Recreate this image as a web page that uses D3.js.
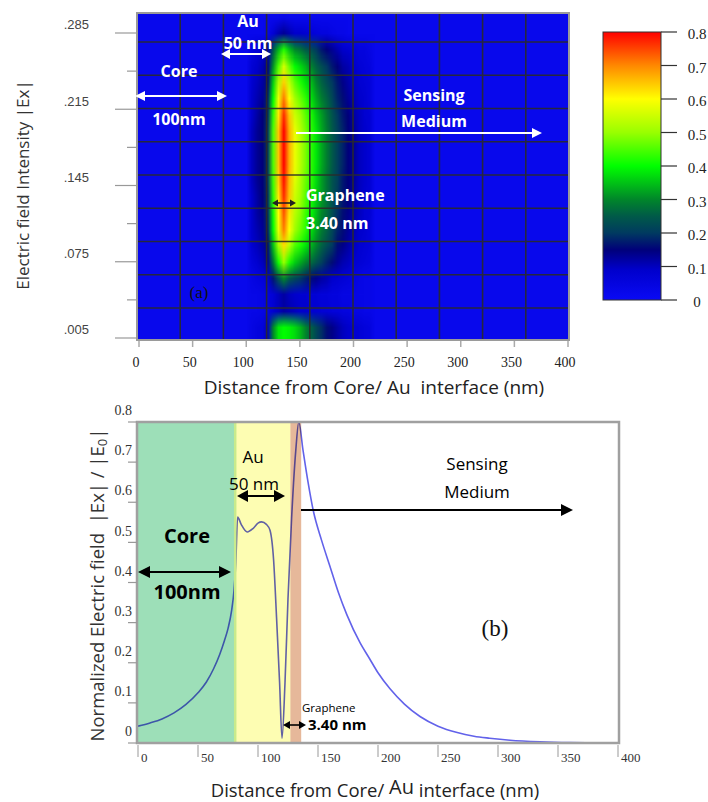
<!DOCTYPE html>
<html><head><meta charset="utf-8">
<script src="https://cdn.jsdelivr.net/npm/d3@7"></script>
<style>
body{margin:0;background:#fff;}
svg{display:block;}
</style></head><body>
<svg id="chart" width="708" height="802"></svg>
<script>
// ---------------- DATA ----------------
// Panel (a): field map |Ex| (colour value) on a grid of distance (nm) x intensity axis
const heatX = [105,110,115,120,125,130,135,140,145,150,155,160,165,170,175,180,185,190,195,200,205,210,215];
const heatY = [0.300,0.285,0.270,0.255,0.240,0.225,0.210,0.195,0.180,0.165,0.150,0.135,0.120,0.105,0.090,0.075,0.060,0.045,0.030,0.015,0.000];
const heatValues = [
  [.02,.02,.02,.02,.02,.02,.03,.02,.02,.02,.02,.02,.02,.02,.02,.02,.02,.02,.02,.02,.02,.02,.02],
  [.02,.02,.02,.03,.07,.11,.13,.11,.09,.09,.08,.07,.06,.05,.05,.04,.03,.03,.02,.02,.02,.02,.02],
  [.05,.07,.08,.11,.24,.34,.42,.35,.30,.28,.25,.23,.20,.17,.15,.13,.11,.09,.08,.07,.05,.05,.04],
  [.07,.09,.11,.14,.31,.45,.56,.47,.40,.37,.34,.30,.26,.23,.20,.17,.15,.12,.11,.09,.07,.06,.05],
  [.08,.10,.12,.16,.36,.52,.64,.54,.46,.42,.38,.35,.30,.26,.23,.20,.17,.14,.12,.10,.08,.07,.06],
  [.09,.11,.13,.18,.40,.58,.71,.60,.51,.47,.43,.38,.33,.29,.26,.22,.18,.16,.13,.11,.09,.08,.06],
  [.09,.12,.15,.19,.43,.62,.77,.65,.55,.51,.46,.42,.36,.32,.28,.24,.20,.17,.15,.12,.10,.08,.07],
  [.10,.13,.15,.20,.45,.65,.80,.67,.58,.53,.48,.43,.38,.33,.29,.25,.21,.18,.15,.13,.10,.09,.07],
  [.10,.13,.15,.20,.45,.65,.80,.67,.58,.53,.48,.43,.38,.33,.29,.25,.21,.18,.15,.13,.10,.09,.07],
  [.10,.13,.15,.20,.45,.65,.80,.67,.58,.53,.48,.43,.38,.33,.29,.25,.21,.18,.15,.13,.10,.09,.07],
  [.10,.13,.15,.20,.44,.64,.79,.66,.57,.52,.47,.43,.37,.32,.28,.24,.21,.17,.15,.13,.10,.09,.07],
  [.09,.12,.15,.19,.43,.62,.77,.65,.55,.51,.46,.42,.36,.32,.28,.24,.20,.17,.15,.12,.10,.08,.07],
  [.09,.12,.14,.19,.41,.60,.74,.62,.53,.49,.44,.40,.35,.30,.27,.23,.19,.16,.14,.12,.10,.08,.07],
  [.09,.11,.13,.18,.40,.58,.71,.60,.51,.47,.43,.38,.33,.29,.26,.22,.18,.16,.13,.11,.09,.08,.06],
  [.08,.10,.12,.16,.35,.51,.63,.53,.45,.42,.38,.34,.30,.26,.23,.20,.16,.14,.12,.10,.08,.07,.06],
  [.06,.08,.10,.13,.28,.41,.50,.42,.36,.33,.30,.27,.24,.21,.18,.16,.13,.11,.10,.08,.07,.06,.05],
  [.04,.05,.06,.08,.17,.24,.30,.25,.22,.20,.18,.16,.14,.12,.11,.09,.08,.07,.06,.05,.04,.03,.03],
  [.03,.03,.04,.05,.07,.10,.12,.10,.09,.08,.08,.07,.07,.06,.06,.05,.05,.04,.04,.04,.03,.03,.03],
  [.03,.03,.04,.05,.08,.10,.12,.11,.10,.09,.09,.08,.08,.07,.07,.06,.06,.05,.05,.04,.04,.03,.03],
  [.04,.05,.06,.10,.30,.38,.40,.39,.37,.34,.30,.26,.22,.19,.16,.14,.12,.10,.09,.08,.07,.06,.05],
  [.04,.05,.06,.10,.30,.38,.40,.39,.37,.34,.30,.26,.22,.19,.16,.14,.12,.10,.09,.08,.07,.06,.05]
];
const backgroundField = 0.02;
const xTicksA = [0,50,100,150,200,250,300,350,400];
const yTicksA = [0.005,0.075,0.145,0.215,0.285];
const yTickLabelsA = [".005",".075",".145",".215",".285"];
const colorbarTicks = [0,0.1,0.2,0.3,0.4,0.5,0.6,0.7,0.8];
const colorbarLabels = ["0","0.1","0.2","0.3","0.4","0.5","0.6","0.7","0.8"];

// Panel (b): normalized field profile
const distanceNm = [0,10,20,30,40,50,57,63,68,72,75,78,80,81.5,83,86,91,96,100,103,107,110,113,115.5,118,120,122.5,125,128,131.5,134,137.5,141.7,146,153,160,167,174,185,193,200,210,222,235,250,266,280,293,310,335,360,380,400];
const fieldNorm  = [0.042,0.05,0.06,0.075,0.096,0.125,0.152,0.185,0.22,0.255,0.285,0.33,0.38,0.45,0.563,0.545,0.526,0.535,0.548,0.551,0.545,0.53,0.456,0.31,0.15,0.012,0.15,0.36,0.56,0.73,0.80,0.73,0.65,0.58,0.505,0.44,0.375,0.32,0.25,0.21,0.175,0.135,0.097,0.066,0.042,0.026,0.017,0.012,0.007,0.003,0.001,0.0005,0];
const layerNames = ["Core","Au","Graphene"];
const layerBounds = [0,81,127,136];   // nm boundaries of layers
const xTicksB = [0,50,100,150,200,250,300,350,400];
const yTicksB = [0,0.1,0.2,0.3,0.4,0.5,0.6,0.7,0.8];
const yTickLabelsB = ["0","0.1","0.2","0.3","0.4","0.5","0.6","0.7","0.8"];

// colour map
const colorStops = [0,0.09,0.15,0.2,0.25,0.3,0.4,0.5,0.6,0.7,0.8];
const colorHex = ["#0a0af5","#0000cc","#00007a","#003a60","#005a48","#00862a","#00ff00","#99ff00","#ffff00","#ff8800","#ff0000"];

// ---------------- DRAWING ----------------
const svg = d3.select("#chart");
const SANS = "'Open Sans','Noto Sans',sans-serif";
const SERIF = "'Liberation Serif','DejaVu Serif',serif";
const defs = svg.append("defs");
const color = d3.scaleLinear().domain(colorStops).range(colorHex).clamp(true);

function arrow(g, x1, x2, y, opt) {
  const {col="#000", w=2, hl=10, hw=5, both=true} = opt || {};
  const dir = Math.sign(x2 - x1);
  g.append("line").attr("x1", both ? x1 + dir*hl*0.8 : x1).attr("x2", x2 - dir*hl*0.8)
    .attr("y1", y).attr("y2", y).attr("stroke", col).attr("stroke-width", w);
  g.append("path").attr("d", `M${x2},${y}L${x2-dir*hl},${y-hw}L${x2-dir*hl},${y+hw}Z`).attr("fill", col);
  if (both) g.append("path").attr("d", `M${x1},${y}L${x1+dir*hl},${y-hw}L${x1+dir*hl},${y+hw}Z`).attr("fill", col);
}
function label(g, x, y, t, o) {
  return g.append("text").attr("x", x).attr("y", y).text(t)
    .attr("font-family", o.ff || SANS).attr("font-size", o.fs).attr("fill", o.fill || "#000")
    .attr("font-weight", o.fw || "normal").attr("text-anchor", o.anchor || "middle");
}

// ===== Panel (a) =====
const A = {l:137, r:569, t:13, b:340};
const xA = d3.scaleLinear().domain([0,400]).range([139,568]);
const yA = d3.scaleLinear().domain([0.005,0.285]).range([338,33]);

defs.append("clipPath").attr("id","clipA").append("rect")
  .attr("x",A.l).attr("y",A.t).attr("width",A.r-A.l).attr("height",A.b-A.t);
const gA = svg.append("g").attr("clip-path","url(#clipA)");
gA.append("rect").attr("x",A.l).attr("y",A.t).attr("width",A.r-A.l).attr("height",A.b-A.t)
  .attr("fill", color(backgroundField));

const nc = heatX.length, nr = heatY.length;
const cv = document.createElement("canvas");
cv.width = nc + 2; cv.height = nr + 2;
const ctx = cv.getContext("2d");
const im = ctx.createImageData(nc + 2, nr + 2);
for (let j = 0; j < nr + 2; j++) {
  for (let i = 0; i < nc + 2; i++) {
    const inside = i > 0 && j > 0 && i <= nc && j <= nr;
    const v = inside ? heatValues[j-1][i-1] : backgroundField;
    const c = d3.rgb(color(v));
    const k = (j*(nc+2) + i)*4;
    im.data[k] = c.r; im.data[k+1] = c.g; im.data[k+2] = c.b; im.data[k+3] = 255;
  }
}
ctx.putImageData(im, 0, 0);
const dX = heatX[1]-heatX[0], dY = heatY[0]-heatY[1];
const ix0 = xA(heatX[0]-1.5*dX), ix1 = xA(heatX[nc-1]+1.5*dX);
const iy0 = yA(heatY[0]+1.5*dY), iy1 = yA(heatY[nr-1]-1.5*dY);
gA.append("image").attr("href", cv.toDataURL()).attr("x", ix0).attr("y", iy0)
  .attr("width", ix1-ix0).attr("height", iy1-iy0).attr("preserveAspectRatio","none")
  .style("image-rendering","auto");

const gridG = gA.append("g").attr("stroke","#2b2b2b").attr("stroke-width",1.6).attr("opacity",0.9);
d3.range(1,10).forEach(k => {
  const x = A.l + k*(A.r-A.l)/10;
  gridG.append("line").attr("x1",x).attr("x2",x).attr("y1",A.t).attr("y2",A.b);
});
d3.range(0,9).forEach(k => {
  const y = 42 + k*33.25;
  gridG.append("line").attr("x1",A.l).attr("x2",A.r).attr("y1",y).attr("y2",y);
});
svg.append("rect").attr("x",A.l).attr("y",A.t).attr("width",A.r-A.l).attr("height",A.b-A.t)
  .attr("fill","none").attr("stroke","#9a9a9a").attr("stroke-width",2);

const axA = svg.append("g");
xTicksA.forEach(v => {
  axA.append("line").attr("x1",xA(v)).attr("x2",xA(v)).attr("y1",A.b+1).attr("y2",A.b+7)
    .attr("stroke","#aaa").attr("stroke-width",1.5);
  label(axA, xA(v)-3, 367, String(v), {ff:SERIF, fs:14, fill:"#222"});
});
yTicksA.forEach((v,i) => {
  axA.append("line").attr("x1",115).attr("x2",A.l).attr("y1",yA(v)).attr("y2",yA(v))
    .attr("stroke","#999").attr("stroke-width",1.2);
  if (i < yTicksA.length-1) {
    const m = v + 0.035;
    axA.append("line").attr("x1",127).attr("x2",A.l).attr("y1",yA(m)).attr("y2",yA(m))
      .attr("stroke","#999").attr("stroke-width",1.2);
  }
  label(axA, 89, yA(v)-7, yTickLabelsA[i], {ff:"'Liberation Sans',Arial,sans-serif", fs:13, fill:"#444", anchor:"end"})
    .attr("dominant-baseline","middle");
});
const xtA = label(svg, 374, 394, "", {fs:19, fill:"#222"});
xtA.append("tspan").text("Distance from Core/ ");
xtA.append("tspan").text("Au");
xtA.append("tspan").text("  interface (nm)");
xtA.attr("xml:space","preserve");
svg.append("text").attr("transform","translate(29,185) rotate(-90)").attr("text-anchor","middle")
  .attr("font-family",SANS).attr("font-size",17).attr("fill","#333")
  .text("Electric field Intensity  |Ex|");

// colour bar
const cb = d3.scaleLinear().domain([0,0.8]).range([300,32]);
const grad = defs.append("linearGradient").attr("id","cbGrad")
  .attr("x1",0).attr("x2",0).attr("y1",1).attr("y2",0);
colorStops.forEach((s,i) => grad.append("stop").attr("offset", s/0.8).attr("stop-color", colorHex[i]));
svg.append("rect").attr("x",603).attr("y",cb(0.8)).attr("width",58).attr("height",cb(0)-cb(0.8))
  .attr("fill","url(#cbGrad)").attr("stroke","#333").attr("stroke-width",1);
colorbarTicks.forEach((v,i) => {
  svg.append("line").attr("x1",661).attr("x2",677).attr("y1",cb(v)).attr("y2",cb(v))
    .attr("stroke","#333").attr("stroke-width",1.2);
  label(svg, 697, cb(v)+4, colorbarLabels[i], {ff:SERIF, fs:15, fill:"#222"}).attr("dominant-baseline","middle");
});

// annotations (a)
const anA = svg.append("g");
const W = {fs:16, fw:"bold", fill:"#fff"};
label(anA, 248, 27, "Au", W);
label(anA, 248, 49, "50 nm", W);
arrow(anA, 221, 271, 54, {col:"#fff", w:2, hl:9, hw:5});
label(anA, 179, 77, "Core", W);
label(anA, 179, 125, "100nm", W);
arrow(anA, 135, 227, 96, {col:"#fff", w:2, hl:10, hw:5});
label(anA, 434, 101, "Sensing", W);
label(anA, 434, 127, "Medium", W);
arrow(anA, 296, 542, 133, {col:"#fff", w:2, hl:10, hw:5, both:false});
label(anA, 306, 201, "Graphene", {...W, anchor:"start"});
label(anA, 306, 229, "3.40 nm", {...W, anchor:"start"});
arrow(anA, 272, 296, 203, {col:"#222", w:1.6, hl:6, hw:3.5});
label(anA, 199, 298, "(a)", {ff:SERIF, fs:17, fill:"#111"});

// ===== Panel (b) =====
const B = {l:137, r:619, t:422, b:743};
const xB = d3.scaleLinear().domain([0,400]).range([138,618]);
const yB = d3.scaleLinear().domain([0,0.8]).range([743,422]);
defs.append("clipPath").attr("id","clipB").append("rect")
  .attr("x",B.l).attr("y",B.t).attr("width",B.r-B.l).attr("height",B.b-B.t);
const gB = svg.append("g").attr("clip-path","url(#clipB)");
gB.append("rect").attr("x",B.l).attr("y",B.t).attr("width",B.r-B.l).attr("height",B.b-B.t).attr("fill","#fff");
gB.append("path").datum(distanceNm.map((d,i)=>[d, fieldNorm[i]]))
  .attr("d", d3.line().x(d=>xB(d[0])).y(d=>yB(d[1])).curve(d3.curveMonotoneX))
  .attr("fill","none").attr("stroke","#6262ea").attr("stroke-width",1.6);
const layerFill = ["#9ddfb8","#fdfdb2","#e6b89a"];
layerNames.forEach((n,i) => {
  const x0 = i === 0 ? B.l : xB(layerBounds[i]);
  gB.append("rect").attr("x",x0).attr("y",B.t).attr("width",xB(layerBounds[i+1])-x0)
    .attr("height",B.b-B.t).attr("fill",layerFill[i]).style("mix-blend-mode","multiply");
});
gB.append("line").attr("x1",xB(layerBounds[1])).attr("x2",xB(layerBounds[1])).attr("y1",B.t).attr("y2",B.b)
  .attr("stroke","#c9ea8c").attr("stroke-width",2.5);
svg.append("rect").attr("x",B.l).attr("y",B.t).attr("width",B.r-B.l).attr("height",B.b-B.t)
  .attr("fill","none").attr("stroke","#a0a0a0").attr("stroke-width",2.5);

const axB = svg.append("g");
xTicksB.forEach(v => {
  axB.append("line").attr("x1",xB(v)).attr("x2",xB(v)).attr("y1",B.b+2).attr("y2",B.b+14)
    .attr("stroke","#aaa").attr("stroke-width",1.2);
  label(axB, xB(v)+3, 762, String(v), {ff:SERIF, fs:13, fill:"#333", anchor:"start"});
});
yTicksB.forEach((v,i) => {
  axB.append("line").attr("x1",128).attr("x2",B.l).attr("y1",yB(v)).attr("y2",yB(v))
    .attr("stroke","#999").attr("stroke-width",1.2);
  label(axB, 132, yB(v)-10, yTickLabelsB[i], {ff:SERIF, fs:14, fill:"#333", anchor:"end"})
    .attr("dominant-baseline","middle");
});
const xtB = label(svg, 375, 797, "", {fs:18.5, fill:"#222"});
xtB.append("tspan").text("Distance from Core/ ");
xtB.append("tspan").text("Au").attr("font-size",20).attr("dy",-3);
xtB.append("tspan").text(" interface (nm)").attr("dy",3);
const ytB = svg.append("text").attr("transform","translate(104,585) rotate(-90)").attr("text-anchor","middle")
  .attr("font-family",SANS).attr("font-size",18.5).attr("fill","#333");
ytB.append("tspan").text("Normalized Electric field  |Ex| / |E");
ytB.append("tspan").text("0").attr("font-size",13).attr("dy",3);
ytB.append("tspan").text("|").attr("dy",-3);
ytB.attr("xml:space","preserve");

// annotations (b)
const anB = svg.append("g");
label(anB, 187, 543, "Core", {fs:20, fw:"bold"});
label(anB, 187, 599, "100nm", {fs:20, fw:"bold"});
arrow(anB, 138, 231, 572, {w:2, hl:12, hw:6});
label(anB, 253, 463, "Au", {fs:17});
label(anB, 254, 490, "50 nm", {fs:17});
arrow(anB, 237, 285, 496, {w:2, hl:11, hw:6});
label(anB, 477, 470, "Sensing", {fs:17});
label(anB, 477, 498, "Medium", {fs:17});
arrow(anB, 301, 573, 510, {w:2, hl:12, hw:6, both:false});
label(anB, 495, 636, "(b)", {ff:SERIF, fs:23, fill:"#111"});
label(anB, 302, 712, "Graphene", {fs:11.5, anchor:"start"});
label(anB, 308, 730, "3.40 nm", {fs:15, fw:"bold", anchor:"start"});
arrow(anB, 283, 306, 725, {w:1.6, hl:7, hw:4});
</script></body></html>
